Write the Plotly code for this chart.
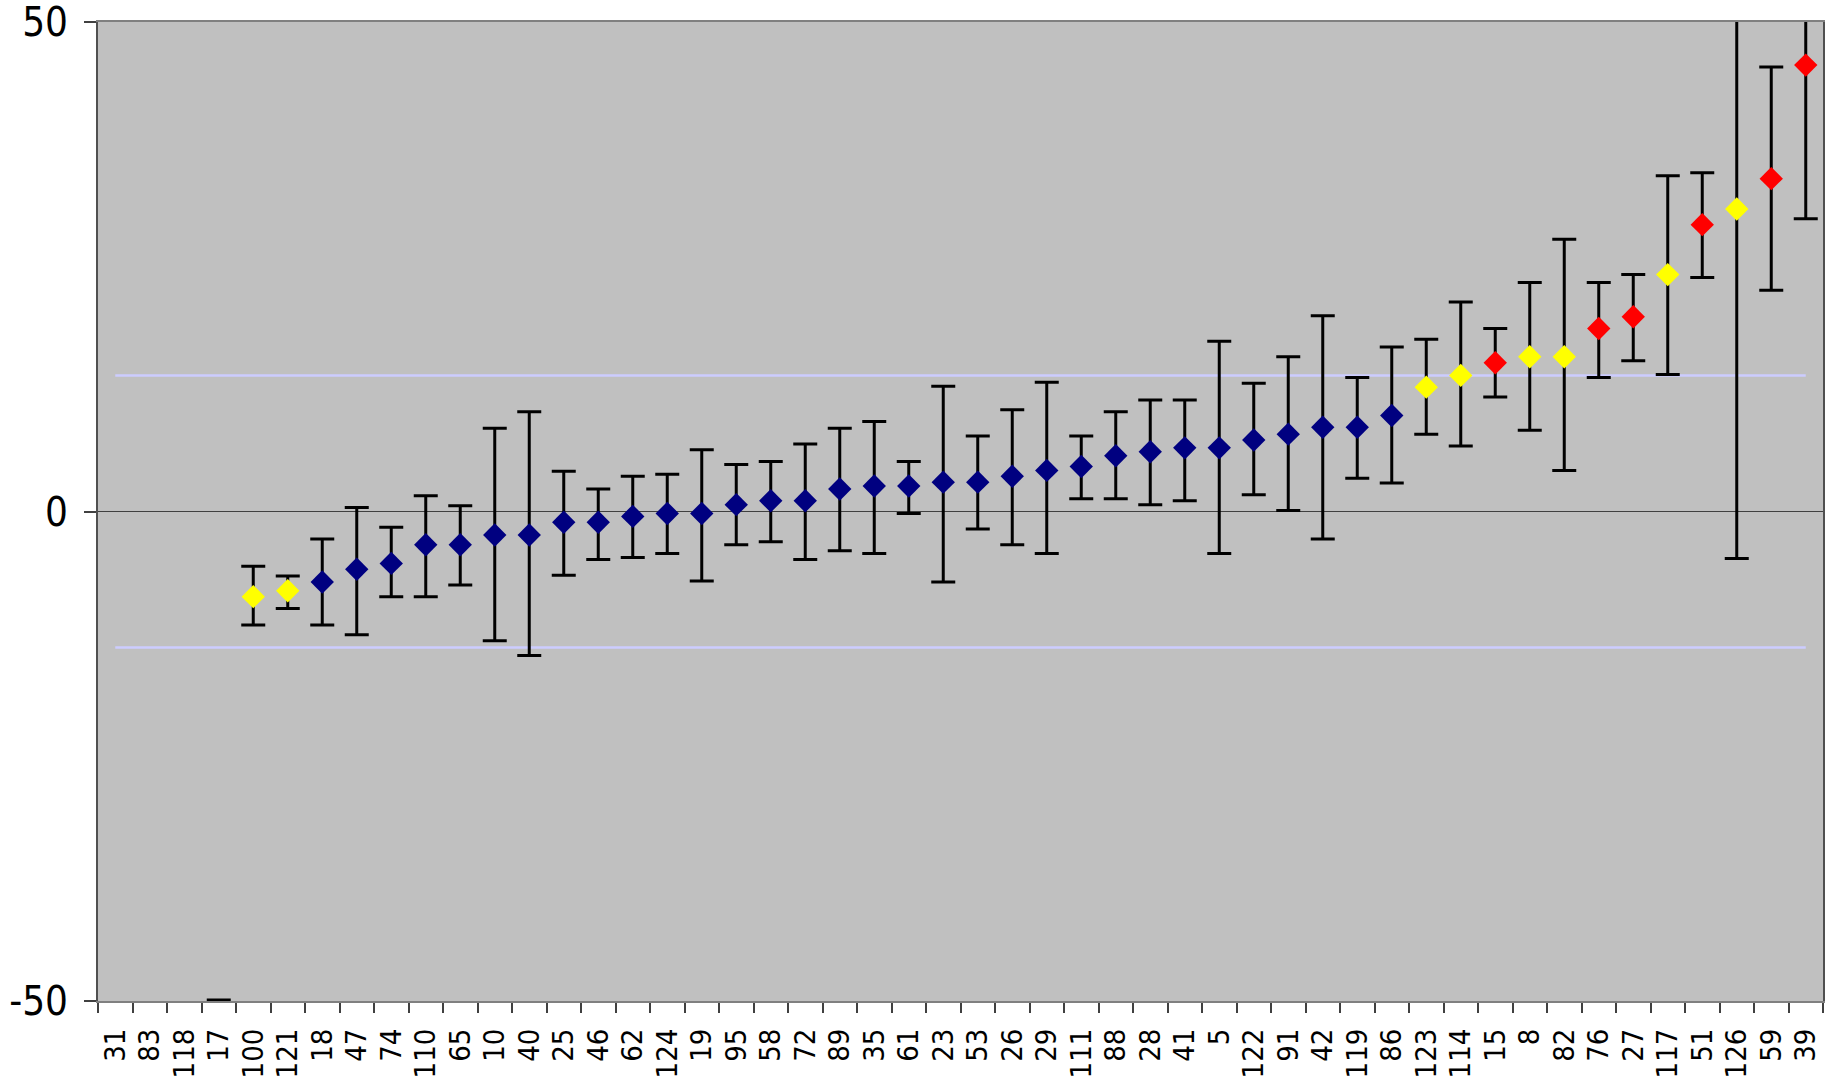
import plotly.graph_objects as go

categories = ["31", "83", "118", "17", "100", "121", "18", "47", "74", "110",
              "65", "10", "40", "25", "46", "62", "124", "19", "95", "58",
              "72", "89", "35", "61", "23", "53", "26", "29", "111", "88",
              "28", "41", "5", "122", "91", "42", "119", "86", "123", "114",
              "15", "8", "82", "76", "27", "117", "51", "126", "59", "39"]

values = [None, None, None, -52.0, -8.7, -8.1, -7.2, -5.9, -5.3, -3.4,
          -3.4, -2.4, -2.4, -1.1, -1.1, -0.5, -0.2, -0.2, 0.7, 1.1,
          1.1, 2.3, 2.6, 2.6, 3.0, 3.0, 3.6, 4.2, 4.6, 5.7,
          6.1, 6.5, 6.5, 7.3, 7.9, 8.6, 8.6, 9.8, 12.7, 13.9,
          15.2, 15.8, 15.8, 18.7, 19.9, 24.2, 29.3, 30.9, 34.0, 45.6]

upper = [None, None, None, -49.9, -5.6, -6.6, -2.8, 0.4, -1.6, 1.6,
         0.6, 8.5, 10.2, 4.1, 2.3, 3.6, 3.8, 6.3, 4.8, 5.1,
         6.9, 8.5, 9.2, 5.1, 12.8, 7.7, 10.4, 13.2, 7.7, 10.2,
         11.4, 11.4, 17.4, 13.1, 15.8, 20.0, 13.7, 16.8, 17.6, 21.4,
         18.7, 23.4, 27.8, 23.4, 24.2, 34.3, 34.6, 60.0, 45.4, 58.0]

lower = [None, None, None, -60.0, -11.6, -9.9, -11.6, -12.6, -8.7, -8.7,
         -7.5, -13.2, -14.7, -6.5, -4.9, -4.7, -4.3, -7.1, -3.4, -3.1,
         -4.9, -4.0, -4.3, -0.2, -7.2, -1.8, -3.4, -4.3, 1.3, 1.3,
         0.7, 1.1, -4.3, 1.7, 0.1, -2.8, 3.4, 2.9, 7.9, 6.7,
         11.7, 8.3, 4.2, 13.7, 15.4, 14.0, 23.9, -4.8, 22.6, 29.9]

groups = ["none", "none", "none", "mid", "flag", "flag", "mid", "mid", "mid", "mid",
          "mid", "mid", "mid", "mid", "mid", "mid", "mid", "mid", "mid", "mid",
          "mid", "mid", "mid", "mid", "mid", "mid", "mid", "mid", "mid", "mid",
          "mid", "mid", "mid", "mid", "mid", "mid", "mid", "mid", "flag", "flag",
          "out", "flag", "flag", "out", "out", "flag", "out", "flag", "out", "out"]

limit_upper = 13.9
limit_lower = -13.9

group_colors = {"none": "#000080", "mid": "#000080", "flag": "#FFFF00", "out": "#FF0000"}

err_plus = [None if v is None else u - v for v, u in zip(values, upper)]
err_minus = [None if v is None else v - l for v, l in zip(values, lower)]

fig = go.Figure()

fig.add_trace(go.Scatter(
    x=[categories[0], categories[-1]], y=[limit_upper, limit_upper],
    mode="lines", line=dict(color="#CCCCFF", width=2.5), hoverinfo="skip"))
fig.add_trace(go.Scatter(
    x=[categories[0], categories[-1]], y=[limit_lower, limit_lower],
    mode="lines", line=dict(color="#CCCCFF", width=2.5), hoverinfo="skip"))

fig.add_trace(go.Scatter(
    x=categories, y=values, mode="markers",
    marker=dict(symbol="diamond", size=18,
                color=[group_colors[g] for g in groups], line=dict(width=0)),
    error_y=dict(type="data", symmetric=False, array=err_plus, arrayminus=err_minus,
                 color="black", thickness=3, width=12),
))

font_main = "DejaVu Sans Condensed, DejaVu Sans, sans-serif"

fig.update_layout(
    width=1838, height=1085,
    margin=dict(l=98, r=15, t=22, b=84),
    paper_bgcolor="white", plot_bgcolor="#C0C0C0",
    showlegend=False,
    font=dict(family=font_main, color="black"),
)

fig.update_xaxes(
    type="category", categoryorder="array", categoryarray=categories,
    range=[-0.5, len(categories) - 0.5],
    tickmode="array", tickvals=categories, ticktext=categories,
    tickangle=-90, tickfont=dict(size=29, family=font_main),
    ticks="outside", ticklen=10, tickcolor="#404040", tickwidth=1.5,
    tickson="boundaries", ticklabelstandoff=14, ticklabeloverflow="allow",
    showgrid=False, showline=True, linecolor="#808080", linewidth=2, mirror=True,
    automargin=False,
)

fig.update_yaxes(
    range=[-50, 50], tickvals=[-50, 0, 50], ticktext=["-50", "0", "50"],
    tickfont=dict(size=40, family=font_main),
    ticks="outside", ticklen=12, tickcolor="#404040", tickwidth=1.5,
    ticklabelstandoff=8, ticklabeloverflow="allow",
    showgrid=False, zeroline=True, zerolinecolor="#404040", zerolinewidth=1,
    showline=True, linecolor="#505050", linewidth=2, mirror=True,
    automargin=False,
)

fig.write_html("out.html", config={"displayModeBar": False},
               post_script="document.body.style.margin='0';document.body.style.overflow='hidden';")
